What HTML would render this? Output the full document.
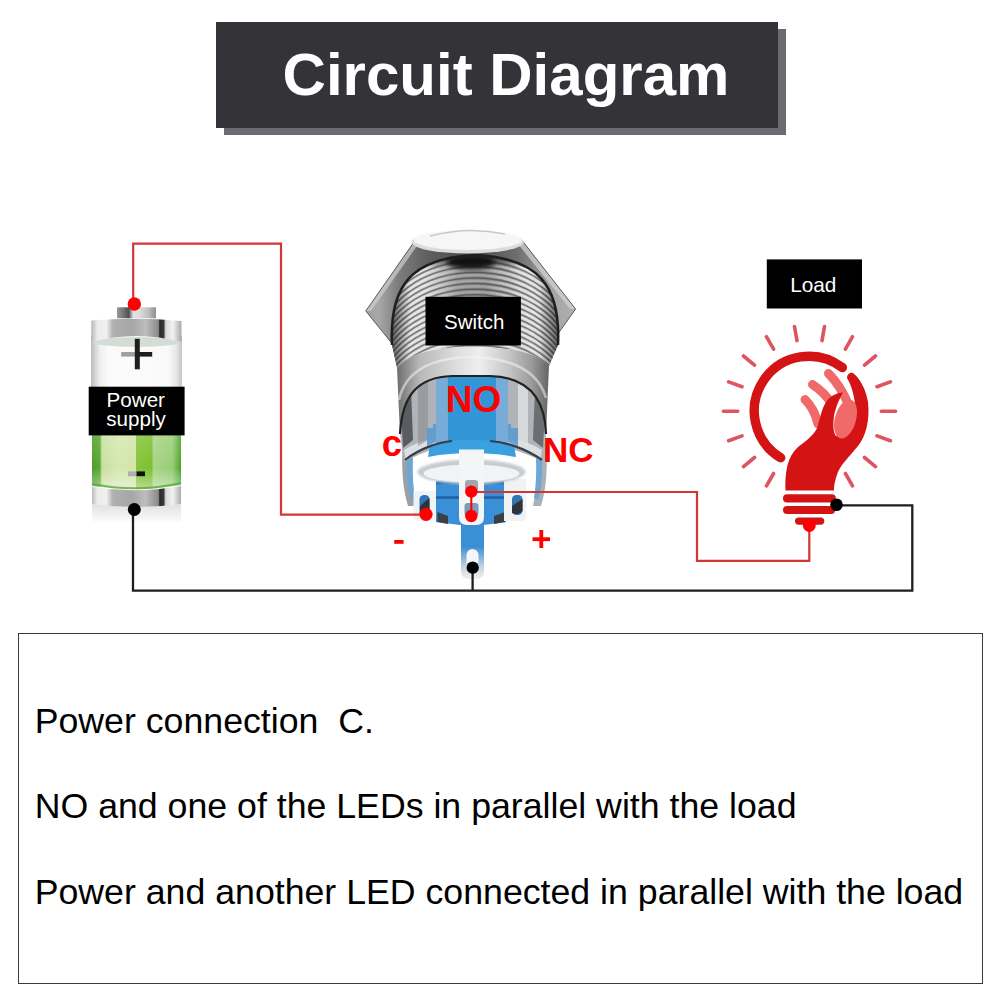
<!DOCTYPE html>
<html><head><meta charset="utf-8">
<style>
html,body{margin:0;padding:0;background:#fff;width:1001px;height:1001px;overflow:hidden}
svg{position:absolute;left:0;top:0}
text{font-family:"Liberation Sans",sans-serif;white-space:pre}
</style></head>
<body>
<svg width="1001" height="1001" viewBox="0 0 1001 1001">
<defs>
<linearGradient id="bNub" x1="117" x2="156" y1="0" y2="0" gradientUnits="userSpaceOnUse">
<stop offset="0" stop-color="#9a9a9a"/><stop offset="0.2" stop-color="#6a6a6a"/><stop offset="0.3" stop-color="#505050"/>
<stop offset="0.42" stop-color="#dfe6e6"/><stop offset="0.6" stop-color="#d8dada"/><stop offset="0.8" stop-color="#c0c0c0"/><stop offset="1" stop-color="#8c8c8c"/>
</linearGradient>
<linearGradient id="bRing" x1="91" x2="182" y1="0" y2="0" gradientUnits="userSpaceOnUse">
<stop offset="0" stop-color="#b4b4b4"/><stop offset="0.07" stop-color="#ececec"/><stop offset="0.17" stop-color="#f0f0f0"/>
<stop offset="0.24" stop-color="#b0b0b0"/><stop offset="0.45" stop-color="#a6a6a6"/><stop offset="0.6" stop-color="#bdbdbd"/>
<stop offset="0.74" stop-color="#8a8a8a"/><stop offset="0.755" stop-color="#2a2a2a"/><stop offset="0.8" stop-color="#3a3a3a"/>
<stop offset="0.82" stop-color="#d8d8d8"/><stop offset="0.9" stop-color="#f2f2f2"/><stop offset="1" stop-color="#a4a4a4"/>
</linearGradient>
<linearGradient id="bGlass" x1="91" x2="182" y1="0" y2="0" gradientUnits="userSpaceOnUse">
<stop offset="0" stop-color="#bcbcbc"/><stop offset="0.1" stop-color="#efefef"/><stop offset="0.2" stop-color="#fbfbfb"/>
<stop offset="0.85" stop-color="#fafafa"/><stop offset="0.94" stop-color="#e6e6e6"/><stop offset="1" stop-color="#c4c4c4"/>
</linearGradient>
<linearGradient id="bGreen" x1="92" x2="181" y1="0" y2="0" gradientUnits="userSpaceOnUse">
<stop offset="0" stop-color="#4f9d2a"/><stop offset="0.09" stop-color="#5aa832"/><stop offset="0.11" stop-color="#c8df9e"/>
<stop offset="0.3" stop-color="#d6e8b2"/><stop offset="0.49" stop-color="#d2e6a6"/><stop offset="0.5" stop-color="#86c43a"/>
<stop offset="0.67" stop-color="#7cc030"/><stop offset="0.69" stop-color="#a6d584"/><stop offset="0.9" stop-color="#98cd78"/>
<stop offset="0.96" stop-color="#6ab648"/><stop offset="1" stop-color="#4f9d2a"/>
</linearGradient>
<linearGradient id="bGreenV" x1="0" x2="0" y1="435" y2="490" gradientUnits="userSpaceOnUse">
<stop offset="0" stop-color="#ffffff" stop-opacity="0.15"/><stop offset="0.6" stop-color="#ffffff" stop-opacity="0"/><stop offset="1" stop-color="#ffffff" stop-opacity="0.45"/>
</linearGradient>
<linearGradient id="bRefl" x1="0" x2="0" y1="506" y2="524" gradientUnits="userSpaceOnUse">
<stop offset="0" stop-color="#d8d8d8"/><stop offset="1" stop-color="#ffffff"/>
</linearGradient>
<linearGradient id="swTab" x1="0" x2="0" y1="520" y2="579" gradientUnits="userSpaceOnUse">
<stop offset="0" stop-color="#3b8fd4"/><stop offset="0.45" stop-color="#3b8fd4"/><stop offset="0.8" stop-color="#c8d4e0"/><stop offset="1" stop-color="#f0f0f0"/>
</linearGradient>
<linearGradient id="swNut" x1="366" x2="576" y1="0" y2="0" gradientUnits="userSpaceOnUse">
<stop offset="0" stop-color="#a0a0a0"/><stop offset="0.06" stop-color="#a8a8a8"/><stop offset="0.15" stop-color="#7e7e7e"/>
<stop offset="0.3" stop-color="#5e5e5e"/><stop offset="0.5" stop-color="#4a4a4a"/><stop offset="0.72" stop-color="#6e6e6e"/><stop offset="0.88" stop-color="#a4a4a4"/><stop offset="1" stop-color="#b0b0b0"/>
</linearGradient>
<linearGradient id="swBody" x1="393" x2="557" y1="0" y2="0" gradientUnits="userSpaceOnUse">
<stop offset="0" stop-color="#8a8a8a"/><stop offset="0.1" stop-color="#c4c4c4"/><stop offset="0.3" stop-color="#d0d0d0"/>
<stop offset="0.5" stop-color="#bdbdbd"/><stop offset="0.7" stop-color="#b0b0b0"/><stop offset="0.85" stop-color="#cacaca"/><stop offset="1" stop-color="#7a7a7a"/>
</linearGradient>
<linearGradient id="swRing" x1="397" x2="547" y1="0" y2="0" gradientUnits="userSpaceOnUse">
<stop offset="0" stop-color="#6e6e6e"/><stop offset="0.15" stop-color="#b8b8b8"/><stop offset="0.4" stop-color="#dedede"/>
<stop offset="0.55" stop-color="#eeeeee"/><stop offset="0.75" stop-color="#c4c4c4"/><stop offset="0.9" stop-color="#9a9a9a"/><stop offset="1" stop-color="#6a6a6a"/>
</linearGradient>
<clipPath id="thrClip"><path d="M392,345 C389,285 412,258 475,255 C538,258 561,285 558,345 L549,366 C535,350 502,347 471,347 C440,347 410,352 397,368 Z"/></clipPath>
<linearGradient id="swBodyEdge" x1="390" x2="560" y1="0" y2="0" gradientUnits="userSpaceOnUse">
<stop offset="0" stop-color="#202020" stop-opacity="0.7"/><stop offset="0.12" stop-color="#202020" stop-opacity="0"/>
<stop offset="0.88" stop-color="#202020" stop-opacity="0"/><stop offset="1" stop-color="#202020" stop-opacity="0.7"/>
</linearGradient>
<linearGradient id="swCenterShade" x1="425" x2="520" y1="0" y2="0" gradientUnits="userSpaceOnUse">
<stop offset="0" stop-color="#303030" stop-opacity="0"/><stop offset="0.35" stop-color="#303030" stop-opacity="0.35"/><stop offset="0.65" stop-color="#303030" stop-opacity="0.35"/><stop offset="1" stop-color="#303030" stop-opacity="0"/>
</linearGradient>
<filter id="blur3" x="-50%" y="-50%" width="200%" height="200%"><feGaussianBlur stdDeviation="3"/></filter>
<filter id="blur2" x="-50%" y="-50%" width="200%" height="200%"><feGaussianBlur stdDeviation="2"/></filter>
<filter id="blur1" x="-50%" y="-50%" width="200%" height="200%"><feGaussianBlur stdDeviation="1"/></filter>
</defs>

<!-- battery -->
<g id="battery">
<rect x="92" y="504" width="89" height="18" fill="url(#bRefl)" opacity="0.7"/>
<path d="M92,487 Q136.5,494 181,486 L181,504 Q136.5,510 92,504 Z" fill="url(#bRing)"/>
<path d="M92,435 L181,435 L181,485 Q136.5,493 92,486 Z" fill="url(#bGreen)"/>
<path d="M92,435 L181,435 L181,485 Q136.5,493 92,486 Z" fill="url(#bGreenV)"/>
<path d="M92,484 Q136.5,493 181,483" stroke="#5aa638" stroke-width="2" fill="none" opacity="0.8"/>
<rect x="128" y="471.4" width="8.5" height="4.8" fill="#b0b0b0"/>
<rect x="136.5" y="471.4" width="8.5" height="4.8" fill="#111"/>
<rect x="91" y="336" width="91" height="51" fill="url(#bGlass)"/>
<ellipse cx="136.5" cy="342" rx="44" ry="5" fill="#d4dcd6"/>
<path d="M91.3,320.5 Q136.5,317 181.5,321 L181.5,342 Q136.5,330 91.3,342 Z" fill="url(#bRing)"/>
<rect x="117" y="307.3" width="39" height="11" fill="url(#bNub)"/>
<rect x="121.2" y="352" width="14" height="4.6" fill="#a0a0a0"/>
<rect x="135.2" y="352" width="17" height="4.6" fill="#1e1e1e"/>
<rect x="134.8" y="338.8" width="5" height="30.5" fill="#1e1e1e"/>
<rect x="88.7" y="386.7" width="95.9" height="48.7" fill="#000"/>
<text x="135.8" y="406.8" font-size="20.6" fill="#fff" text-anchor="middle">Power</text>
<text x="136" y="426.4" font-size="20.6" fill="#fff" text-anchor="middle">supply</text>
</g>
<!-- switch -->
<g id="switch">
<!-- bottom tab -->
<path d="M461,518 L484,518 L484,571 Q484,579 476,579 L469,579 Q461,579 461,571 Z" fill="url(#swTab)"/>
<rect x="466.5" y="549" width="12" height="24" rx="6" fill="#f4f6f8"/>
<!-- outer housing lower (sides) -->
<path d="M403,440 Q400,480 408,506 L416,506 Q410,480 413,445 Z" fill="#9aa0a6"/>
<path d="M546,440 Q549,480 541,506 L533,506 Q539,480 536,445 Z" fill="#a8b0b8"/>
<path d="M407,455 Q406,485 411,500 L415,498 Q412,480 413,458 Z" fill="#6ea6d4"/>
<path d="M542,455 Q543,485 538,500 L534,498 Q537,480 536,458 Z" fill="#6ea6d4"/>
<!-- blue lower body -->
<path d="M436,481 L506,481 L506,522 L484,525 L460,525 L436,522 Z" fill="#3a8fd6"/>
<path d="M436,483 L506,483" stroke="#2a70b0" stroke-width="2.5"/><path d="M436,497.5 L506,497.5" stroke="#1f5fa0" stroke-width="2.6"/>
<path d="M437.4,512 L448,516 L448,524 L437.4,522 Z M494,516 L505.3,512 L505.3,522 L494,524 Z" fill="#3c4046"/>
<!-- side terminals -->
<path d="M413.5,491 L436,491 L436,521 L419,521 Q413.5,521 413.5,515 Z" fill="#f0f2f4"/>
<rect x="419.5" y="495" width="10" height="22" rx="4.5" fill="#2f74b4"/>
<path d="M420,506 L429.5,498 L429.5,514 Q424,518 420,514 Z" fill="#30343a"/>
<path d="M504,479 L526.5,479 L526.5,515 Q526.5,521 521,521 L504,521 Z" fill="#f0f2f4"/>
<rect x="512" y="495" width="10.5" height="20" rx="4.5" fill="#2f74b4"/>
<path d="M512,506 L522.5,499 L522.5,511 Q518,516 512,513 Z" fill="#30343a"/>
<!-- housing inner base -->
<path d="M400,434 C402,395 418,377 452,376 L490,376 C525,377 545,395 546,434 L544,462 Q471,425 404,462 Z" fill="#b0b4b8"/>
<path d="M401,410 L411,388 L413,440 L403,448 Z" fill="#3c4044" opacity="0.75"/>
<path d="M404,450 Q420,440 436,438 L436,444 Q420,448 406,460 Z" fill="#e8eaec" opacity="0.8"/>
<path d="M545,410 L535,388 L533,440 L543,448 Z" fill="#54585c" opacity="0.75"/>
<path d="M542,450 Q526,440 508,438 L508,444 Q526,448 540,460 Z" fill="#e8eaec" opacity="0.8"/>
<path d="M418,384 L428,380 L428,440 L418,446 Z" fill="#8a8e92" opacity="0.6"/>
<path d="M518,380 L528,386 L528,446 L518,440 Z" fill="#e0e2e4" opacity="0.8"/>
<!-- blue column + wings -->
<path d="M427,430 L427,428 L433,428 L433,424 L436,424 L436,442 L427,446 Z M508,424 L511,424 L511,428 L518,428 L518,446 L508,442 Z" fill="#5a9ad0" opacity="0.9"/>
<path d="M436,376 L508,376 L508,445 L436,445 Z" fill="#78acd8"/>
<path d="M448,376 L496,376 L496,445 L448,445 Z" fill="#3296d6"/>
<path d="M430,445 C440,441 455,440 471,440 C487,440 503,441 514,445 L516,457 C500,454 485,453 471,453 C457,453 443,454 428,457 Z" fill="#3aa0e0"/>
<path d="M405,460 C420,448 440,442 452,441 M490,441 C505,442 525,448 542,460" stroke="#3a3e44" stroke-width="2.2" fill="none"/>
<!-- white oval ring -->
<ellipse cx="471.5" cy="472" rx="54" ry="12.5" fill="#c8ccd0" filter="url(#blur1)"/>
<ellipse cx="471.5" cy="473.5" rx="48" ry="9" fill="#f2f3f4"/>
<!-- center terminal -->
<path d="M459,449.5 L484,449.5 L484,517 Q484,525 476,525 L467,525 Q459,525 459,517 Z" fill="#f4f5f6"/>
<rect x="465" y="480" width="13" height="12" rx="3" fill="#a0a6ac"/>
<rect x="464.5" y="503" width="14" height="13" rx="3" fill="#7a9cbc"/>
<!-- nut -->
<path d="M412.6,244 L522.9,241.6 L575.6,309 L556.4,336 L391,342.3 L365.8,311 Z" fill="url(#swNut)"/>
<path d="M365.8,311 L412.6,244 L417,246 L371,311 Z" fill="#cfcfcf" opacity="0.7"/>
<path d="M575.6,309 L522.9,241.6 L518,244 L570,309 Z" fill="#d4d4d4" opacity="0.7"/>
<path d="M412.6,244 L522.9,241.6 L575.6,309 L556.4,336 L391,342.3 L365.8,311 Z" fill="none" stroke="#5a5a5a" stroke-width="1"/>
<!-- threads body -->
<path d="M392,345 C389,285 412,258 475,255 C538,258 561,285 558,345 L549,366 C535,350 502,347 471,347 C440,347 410,352 397,368 Z" fill="url(#swBody)"/>
<g clip-path="url(#thrClip)">
<path d="M380,320.0 A95,70 0 0 1 570,320.0 M380,325.6 A95,70 0 0 1 570,325.6 M380,331.2 A95,70 0 0 1 570,331.2 M380,336.8 A95,70 0 0 1 570,336.8 M380,342.4 A95,70 0 0 1 570,342.4 M380,348.0 A95,70 0 0 1 570,348.0 M380,353.6 A95,70 0 0 1 570,353.6 M380,359.2 A95,70 0 0 1 570,359.2 M380,364.8 A95,70 0 0 1 570,364.8 M380,370.4 A95,70 0 0 1 570,370.4 M380,376.0 A95,70 0 0 1 570,376.0 M380,381.6 A95,70 0 0 1 570,381.6 M380,387.2 A95,70 0 0 1 570,387.2 M380,392.8 A95,70 0 0 1 570,392.8 M380,398.4 A95,70 0 0 1 570,398.4 M380,404.0 A95,70 0 0 1 570,404.0 M380,409.6 A95,70 0 0 1 570,409.6 M380,415.2 A95,70 0 0 1 570,415.2 M380,420.8 A95,70 0 0 1 570,420.8 M380,426.4 A95,70 0 0 1 570,426.4 M380,432.0 A95,70 0 0 1 570,432.0 M380,437.6 A95,70 0 0 1 570,437.6 M380,443.2 A95,70 0 0 1 570,443.2 M380,448.8 A95,70 0 0 1 570,448.8 M380,454.4 A95,70 0 0 1 570,454.4 M380,460.0 A95,70 0 0 1 570,460.0 M380,465.6 A95,70 0 0 1 570,465.6" stroke="#f4f4f4" stroke-width="2.2" fill="none" opacity="0.7" transform="translate(0,-2.8)"/>
<path d="M380,320.0 A95,70 0 0 1 570,320.0 M380,325.6 A95,70 0 0 1 570,325.6 M380,331.2 A95,70 0 0 1 570,331.2 M380,336.8 A95,70 0 0 1 570,336.8 M380,342.4 A95,70 0 0 1 570,342.4 M380,348.0 A95,70 0 0 1 570,348.0 M380,353.6 A95,70 0 0 1 570,353.6 M380,359.2 A95,70 0 0 1 570,359.2 M380,364.8 A95,70 0 0 1 570,364.8 M380,370.4 A95,70 0 0 1 570,370.4 M380,376.0 A95,70 0 0 1 570,376.0 M380,381.6 A95,70 0 0 1 570,381.6 M380,387.2 A95,70 0 0 1 570,387.2 M380,392.8 A95,70 0 0 1 570,392.8 M380,398.4 A95,70 0 0 1 570,398.4 M380,404.0 A95,70 0 0 1 570,404.0 M380,409.6 A95,70 0 0 1 570,409.6 M380,415.2 A95,70 0 0 1 570,415.2 M380,420.8 A95,70 0 0 1 570,420.8 M380,426.4 A95,70 0 0 1 570,426.4 M380,432.0 A95,70 0 0 1 570,432.0 M380,437.6 A95,70 0 0 1 570,437.6 M380,443.2 A95,70 0 0 1 570,443.2 M380,448.8 A95,70 0 0 1 570,448.8 M380,454.4 A95,70 0 0 1 570,454.4 M380,460.0 A95,70 0 0 1 570,460.0 M380,465.6 A95,70 0 0 1 570,465.6" stroke="#505050" stroke-width="1.5" fill="none" opacity="0.65"/>
<rect x="390" y="250" width="170" height="130" fill="url(#swBodyEdge)"/>
<rect x="425" y="256" width="95" height="45" fill="url(#swCenterShade)"/>
<ellipse cx="472" cy="258" rx="58" ry="7" fill="#202020" opacity="0.7" filter="url(#blur3)"/>
<ellipse cx="471" cy="262" rx="24" ry="7" fill="#0a0a0a" opacity="0.9" filter="url(#blur2)"/>
</g>
<path d="M392,345 C389,285 412,258 475,255 C538,258 561,285 558,345" stroke="#1e1e1e" stroke-width="2.5" fill="none"/>
<!-- smooth ring -->
<path d="M397,368 C410,352 440,347 471,347 C502,347 535,350 549,366 L546,434 C545,395 525,377 490,376 L452,376 C418,377 402,395 400,434 Z" fill="url(#swRing)"/>
<path d="M399,400 C405,372 430,358 471,357 C512,358 538,370 546,398" stroke="#f4f4f4" stroke-width="2.5" fill="none" opacity="0.55"/>
<path d="M400,434 C402,395 418,377 452,376 L490,376 C525,377 545,395 546,434" stroke="#222" stroke-width="2.2" fill="none"/>
<!-- cap -->
<ellipse cx="467.7" cy="242" rx="56" ry="11.5" fill="#dcdcdc"/>
<ellipse cx="467.7" cy="240" rx="54" ry="10" fill="#f6f6f6"/>
<path d="M430,236 Q468,226 505,234" stroke="#c8c8c8" stroke-width="1.5" fill="none"/>
<!-- label -->
<rect x="425.5" y="296.8" width="95.4" height="48.7" fill="#000"/>
<text x="474.2" y="329" font-size="20.5" fill="#fff" text-anchor="middle">Switch</text>
<text x="473.6" y="411.5" font-size="37" font-weight="bold" fill="#ff0000" text-anchor="middle">NO</text>
<text x="391.8" y="455.6" font-size="36.5" font-weight="bold" fill="#ff0000" text-anchor="middle">c</text>
<text x="568.2" y="461.8" font-size="35" font-weight="bold" fill="#ff0000" text-anchor="middle">NC</text>
<rect x="394.2" y="540" width="9.4" height="3.8" fill="#ff0000"/>
<rect x="532.5" y="537.3" width="17.5" height="3.8" fill="#ff0000"/>
<rect x="539.4" y="530" width="3.8" height="18" fill="#ff0000"/>
</g>

<!-- bulb -->
<g id="bulb">
<path d="M881.3,411.3 L895.6,411.3 M877.0,435.9 L890.4,440.7 M864.5,457.5 L875.5,466.6 M845.4,473.5 L852.5,485.9 M773.6,473.5 L766.5,485.9 M754.5,457.5 L743.5,466.6 M742.0,435.9 L728.6,440.7 M737.7,411.3 L723.4,411.3 M742.0,386.7 L728.6,381.9 M754.5,365.1 L743.5,356.0 M773.6,349.1 L766.4,336.7 M797.0,340.6 L794.5,326.5 M822.0,340.6 L824.5,326.5 M845.4,349.1 L852.5,336.7 M864.5,365.1 L875.5,356.0 M877.0,386.7 L890.4,381.9" stroke="#de5460" stroke-width="3.6" stroke-linecap="round" fill="none"/>
<path d="M780.7,457.8 A54.7,54.7 0 1 1 842.3,367.6" stroke="#d41414" stroke-width="9.4" fill="none" stroke-linecap="round"/>
<g stroke="#f06a6a" stroke-width="9" stroke-linecap="round" fill="none">
<path d="M828.5,373.5 Q841,386 849,406"/>
<path d="M812.5,384.5 Q824,392 832,404"/>
<path d="M805,399.5 Q814,408 818,424"/>
</g>
<path d="M785.4,490.5 C785,472 787,457 798,447 C806,441 814,435 817.6,427 C820,418 822,408 826,402 C830,396 836,393 843,392.5 C840,398 836,406 834,416 C833,425 833,432 836,436 L845,436 C852,430 856,420 855.5,410 C855,398 852,386 847,378 C847,374 850,372 853,373 C860,378 866,390 868,402 C870,420 866,436 858,446 C850,456 842,463 838,472 C835,480 834,485 834,490.5 Z" fill="#d41414"/>
<ellipse cx="845.5" cy="419" rx="10.5" ry="20" transform="rotate(16 845.5 419)" fill="#f06a6a"/>
<rect x="783" y="494.3" width="52.8" height="8.1" rx="4" fill="#d41414"/>
<rect x="783" y="505.9" width="52.1" height="8" rx="4" fill="#d41414"/>
<rect x="795" y="517.4" width="29.3" height="7.4" rx="3.7" fill="#d41414"/>
<rect x="766.8" y="259.4" width="95.2" height="49.1" fill="#000"/>
<text x="813.3" y="291.8" font-size="20.8" fill="#fff" text-anchor="middle">Load</text>
</g>

<!-- title -->
<rect x="224" y="29" width="562" height="106" fill="#6c6c70"/>
<rect x="216" y="22" width="562" height="106" fill="#333338"/>
<text x="282.6" y="95.2" font-size="60" font-weight="bold" fill="#fff">Circuit Diagram</text>

<!-- wires -->
<g id="wires" fill="none">
<polyline points="133.2,303 133.2,243.6 281,243.6 281,514.6 426,514.6" stroke="#d23636" stroke-width="2.2"/>
<polyline points="133,510 133,590.6 912.3,590.6 912.3,505.4 836,505.4" stroke="#1e1e1e" stroke-width="2.3"/>
<polyline points="472.6,568 472.6,590.6" stroke="#1e1e1e" stroke-width="2.3"/>
<polyline points="471,492 697,492 697,560.9 809.3,560.9 809.3,525" stroke="#d23636" stroke-width="2.2"/>
</g>
<g id="dots">
<circle cx="134.3" cy="304" r="6.7" fill="#ff0000"/>
<circle cx="134.3" cy="509.5" r="6.5" fill="#000"/>
<circle cx="809.3" cy="525.5" r="6.4" fill="#ff0000"/>
<circle cx="836.5" cy="504.8" r="6.3" fill="#000"/>
<circle cx="426" cy="514.3" r="6.6" fill="#ff0000"/>
<circle cx="471.3" cy="491.6" r="6.2" fill="#ff0000"/>
<circle cx="471.3" cy="516" r="6.2" fill="#ff0000"/>
<rect x="470.3" y="491.6" width="2" height="24.4" fill="#ff0000"/>
<circle cx="472.7" cy="567.7" r="6.2" fill="#000"/>
</g>

<!-- bottom text box -->
<rect x="18.5" y="633.5" width="964" height="350" fill="none" stroke="#3a3a3a" stroke-width="1"/>
<text x="34.7" y="732.7" font-size="35.7" fill="#000">Power connection  C.</text>
<text x="34.7" y="818" font-size="35.7" fill="#000">NO and one of the LEDs in parallel with the load</text>
<text x="34.7" y="904" font-size="35.7" fill="#000">Power and another LED connected in parallel with the load</text>
</svg>
</body></html>
